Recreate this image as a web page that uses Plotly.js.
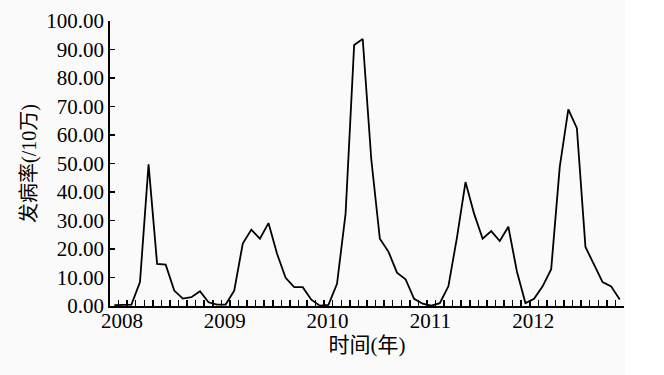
<!DOCTYPE html>
<html>
<head>
<meta charset="utf-8">
<script src="https://cdn.plot.ly/plotly-3.0.1.min.js"></script>
<style>html,body{margin:0;padding:0;background:#fff;}#chart{width:664px;height:375px;}</style>
</head>
<body>
<div id="chart"></div>
<script>
// Monthly incidence (per 100,000), Jan 2008 - Dec 2012
const years = ['2008', '2009', '2010', '2011', '2012'];
const rate2008 = [0.3, 0.3, 0.5, 8.4, 49.7, 14.8, 14.5, 5.4, 2.6, 3.1, 5.2, 1.3];
const rate2009 = [0.5, 0.5, 5.4, 21.9, 26.8, 23.6, 29.1, 18.3, 9.9, 6.6, 6.6, 2.2];
const rate2010 = [0.1, 0.4, 7.8, 32.4, 91.6, 93.7, 51.5, 23.6, 19.1, 11.7, 9.4, 2.5];
const rate2011 = [0.8, 0.1, 1.0, 6.9, 24.0, 43.5, 32.4, 23.6, 26.3, 22.8, 27.8, 12.1];
const rate2012 = [1.0, 2.5, 6.9, 12.9, 48.8, 69.0, 62.4, 20.7, 14.4, 8.4, 6.9, 2.3];
const yTicks = [0, 10, 20, 30, 40, 50, 60, 70, 80, 90, 100];
const xTitle = '时间(年)';
const yTitle = '发病率(/10万)';

const rates = [].concat(rate2008, rate2009, rate2010, rate2011, rate2012);
const monthPos = rates.map((_, i) => i + 0.5);
const monthBounds = Array.from({length: rates.length + 1}, (_, i) => i);
const yearPos = years.map((_, k) => 1.4 + 12 * k);

const fontFam = '"Liberation Serif", "Times New Roman", "Noto Sans CJK SC", serif';

const traces = [
  {x: monthPos, y: rates, type: 'scatter', mode: 'lines',
   line: {color: '#000', width: 1.8}, hoverinfo: 'skip', xaxis: 'x', yaxis: 'y'},
  {x: [0, 60], y: [0, 0], type: 'scatter', mode: 'lines',
   line: {color: 'rgba(0,0,0,0)', width: 0}, hoverinfo: 'skip', xaxis: 'x2', yaxis: 'y', showlegend: false}
];

const layout = {
  width: 664, height: 375,
  margin: {l: 110, r: 40, t: 21, b: 69, pad: 0},
  paper_bgcolor: '#fafafa', plot_bgcolor: '#fafafa',
  showlegend: false,
  font: {family: fontFam, color: '#000', size: 21},
  xaxis: {
    range: [0, 60], tickmode: 'array', tickvals: monthBounds, ticktext: monthBounds.map(() => ''),
    ticks: 'inside', ticklen: 6, tickwidth: 1.5, tickcolor: '#000',
    showline: true, linecolor: '#000', linewidth: 1.8, showgrid: false, zeroline: false,
    fixedrange: true
  },
  xaxis2: {
    overlaying: 'x', side: 'bottom', range: [0, 60], anchor: 'y',
    tickmode: 'array', tickvals: yearPos, ticktext: years,
    ticks: '', showline: false, showgrid: false, zeroline: false,
    tickfont: {family: fontFam, size: 21, color: '#000'},
    title: {text: xTitle, font: {family: fontFam, size: 21, color: '#000'}, standoff: 5}
  },
  yaxis: {
    range: [0, 100], tickmode: 'array', tickvals: yTicks, tickformat: '.2f',
    ticks: 'inside', ticklen: 5, tickwidth: 1.5, tickcolor: '#000',
    showline: true, linecolor: '#000', linewidth: 1.8, showgrid: false, zeroline: false,
    tickfont: {family: fontFam, size: 21, color: '#000'},
    title: {text: yTitle, font: {family: fontFam, size: 20, color: '#000'}, standoff: 4}
  },
  shapes: [
    {type: 'rect', xref: 'paper', yref: 'paper', x0: 1.002, x1: 1.2, y0: -0.5, y1: 1.2,
     fillcolor: '#fff', line: {width: 0}, layer: 'below'}
  ]
};

Plotly.newPlot('chart', traces, layout, {staticPlot: true, displayModeBar: false});
</script>
</body>
</html>
